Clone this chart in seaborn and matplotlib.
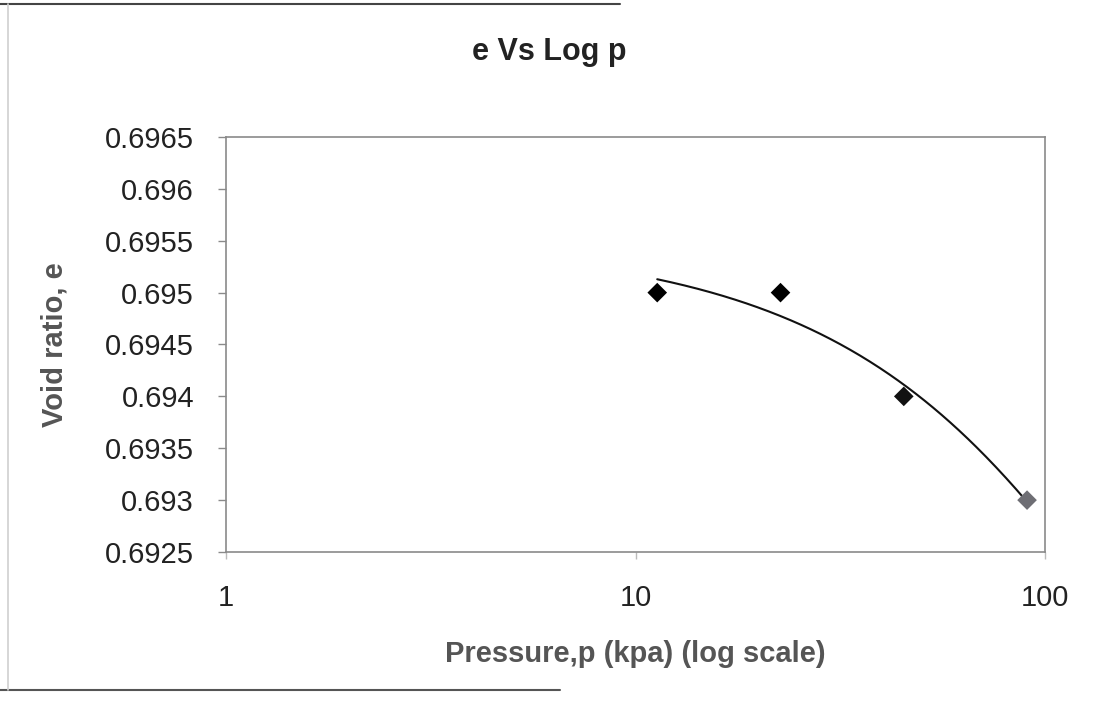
import numpy as np
import pandas as pd
import matplotlib
matplotlib.use("Agg")
import matplotlib.pyplot as plt
import seaborn as sns
from matplotlib.lines import Line2D
from matplotlib.ticker import FixedLocator, FixedFormatter, NullLocator

# Data
pressure = [11.3, 22.6, 45.2, 90.4]
void_ratio = [0.695, 0.695, 0.694, 0.693]
x_ticks = [1, 10, 100]
x_tick_labels = ["1", "10", "100"]
y_ticks = [0.6925, 0.693, 0.6935, 0.694, 0.6945, 0.695, 0.6955, 0.696, 0.6965]
y_tick_labels = ["0.6925", "0.693", "0.6935", "0.694", "0.6945", "0.695", "0.6955", "0.696", "0.6965"]

sns.set_style("white")
plt.rcParams['font.family'] = ['Liberation Sans', 'DejaVu Sans']

df = pd.DataFrame({"p": pressure, "e": void_ratio})

W, H = 1099, 702
fig = plt.figure(figsize=(W / 100, H / 100), dpi=100)
ax = fig.add_axes([226 / W, 1 - 552 / H, (1045 - 226) / W, (552 - 137) / H])

# Excel-style polynomial (order 2) trendline in p
coef = np.polyfit(df["p"], df["e"], 2)
tx = np.logspace(np.log10(df["p"].min()), np.log10(df["p"].max()), 300)
trend = pd.DataFrame({"p": tx, "e": np.polyval(coef, tx)})
sns.lineplot(data=trend, x="p", y="e", ax=ax, color="#111111", linewidth=1.5)

colors = ["#000000", "#000000", "#111111", "#6e6e74"]
sns.scatterplot(data=df, x="p", y="e", ax=ax, marker="D", s=100,
                c=colors, edgecolor="none", zorder=5)

ax.set_xscale("log")
ax.set_xlim(1, 100)
ax.set_ylim(0.6925, 0.6965)
ax.xaxis.set_major_locator(FixedLocator(x_ticks))
ax.xaxis.set_major_formatter(FixedFormatter(x_tick_labels))
ax.xaxis.set_minor_locator(NullLocator())
ax.yaxis.set_major_locator(FixedLocator(y_ticks))
ax.yaxis.set_major_formatter(FixedFormatter(y_tick_labels))

for s in ax.spines.values():
    s.set_color("#8a8a8a")
    s.set_linewidth(1.2)

ax.tick_params(axis="y", which="major", direction="out", length=6, width=1,
               color="#8a8a8a", labelsize=21, labelcolor="#222222", pad=17, left=True)
ax.tick_params(axis="x", which="major", direction="out", length=5, width=1,
               color="#bbbbbb", labelsize=21, labelcolor="#222222", pad=18, bottom=True)

ax.set_xlabel("Pressure,p (kpa) (log scale)", fontsize=21, fontweight="bold",
              color="#555555", labelpad=20)
ax.set_ylabel("Void ratio, e", fontsize=21, fontweight="bold",
              color="#555555", labelpad=26)

fig.text(0.5, 1 - 52 / H, "e Vs Log p", ha="center", va="center",
         fontsize=22, fontweight="bold", color="#222222")

# scanned chart-border remnants
fig.add_artist(Line2D([0, 620 / W], [1 - 4 / H, 1 - 4 / H], color="#444444", lw=1.5))
fig.add_artist(Line2D([0, 560 / W], [1 - 690 / H, 1 - 690 / H], color="#555555", lw=1.5))
fig.add_artist(Line2D([8 / W, 8 / W], [1 - 690 / H, 1 - 4 / H], color="#d0d0d0", lw=1.2))

fig.savefig("out.png", dpi=100, facecolor="white")
